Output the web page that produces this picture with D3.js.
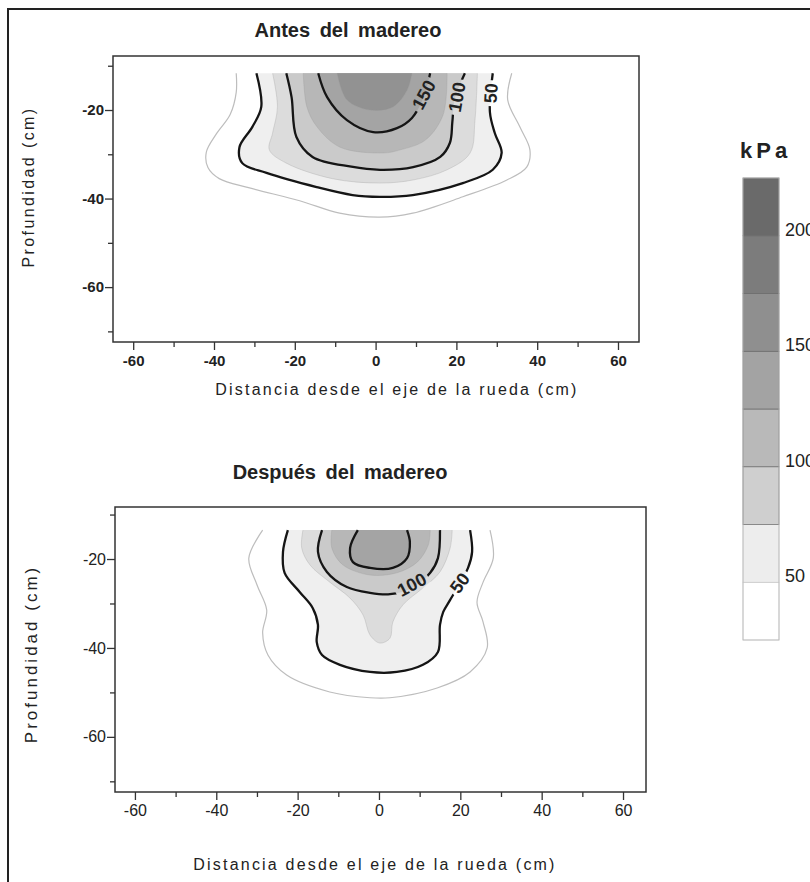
<!DOCTYPE html>
<html>
<head>
<meta charset="utf-8">
<script src="https://cdn.jsdelivr.net/npm/d3@7"></script>
<style>
body { margin: 0; background: #fff; }
text { font-family: "Liberation Sans", Arial, sans-serif; fill: #222; }
</style>
</head>
<body>
<svg id="chart" width="810" height="882"></svg>
<script>
// contour levels (kPa) and the grey for the band above each level
var levels = [25, 50, 75, 100, 125, 150, 175];
var fillShades = ['#ffffff', '#efefef', '#dcdcdc', '#cacaca', '#b7b7b7', '#a4a4a4', '#929292'];

// legend bands
var legendBreaks = [25, 50, 75, 100, 125, 150, 175, 200, 225];
var legendShades = ['#ffffff', '#ededed', '#cfcfcf', '#b9b9b9', '#a3a3a3', '#8f8f8f', '#7c7c7c', '#6a6a6a'];
var legendTicks = [50, 100, 150, 200];

var xTicks = [-60, -40, -20, 0, 20, 40, 60];
var xMinor = [-50, -30, -10, 10, 30, 50];
var yTicks = [-20, -40, -60];
var yMinor = [-10, -30, -50, -70];

// "Antes del madereo": contours as [distance cm, depth cm]
var antes25 = [[-34.5,-11.7],[-34.5,-16],[-36,-21],[-39.5,-25.5],[-41.9,-29.5],[-41.5,-33],[-38.7,-35.5],[-31.2,-37.6],[-18.8,-40.5],[-8.9,-43.3],[1,-44.2],[9.2,-43.3],[21.6,-39.6],[32.5,-35.8],[37.4,-32.9],[38.2,-29.0],[35.7,-23.8],[32.7,-17.7],[33.7,-11.7]];
var antes50 = [[-29.5,-11.7],[-28.3,-19.3],[-30.5,-23.8],[-33.7,-28.4],[-33.0,-32.0],[-27.0,-34.2],[-14.6,-37.4],[-5.7,-39.2],[1,-39.6],[9.2,-39.2],[21.6,-36.5],[29.0,-33.5],[31.2,-29.7],[29.5,-25.2],[28.3,-20.5],[29.0,-11.7]];
var antes75 = [[-25.5,-11.7],[-24.3,-19.3],[-25.5,-25.2],[-26.3,-29.0],[-22.1,-32.0],[-10.7,-35.5],[1,-36.5],[9.3,-35.8],[17.7,-33.5],[23.4,-29.7],[24.6,-22.3],[25.2,-11.7]];
var antes100 = [[-22.1,-11.7],[-20.8,-17.1],[-19.6,-26.1],[-15.6,-30.6],[-6,-32.8],[1.1,-33.5],[9.3,-32.9],[16.0,-30.6],[18.4,-27.4],[19.0,-22.7],[19.6,-17.5],[22.1,-11.7]];
var antes125 = [[-17.9,-11.7],[-17.0,-19.3],[-14.5,-23.8],[-8.8,-28.4],[1.9,-29.7],[6.1,-29.0],[12.3,-26.8],[16.7,-21.1],[17.7,-11.7]];
var antes150 = [[-14.2,-11.7],[-12.0,-17.1],[-7.1,-22.3],[-0.6,-25.0],[5.3,-24.1],[9.0,-21.8],[11.8,-17.3],[13.5,-11.7]];
var antes175 = [[-9.5,-11.7],[-7.1,-17.7],[-1.4,-20.0],[4.3,-19.3],[7.8,-15.5],[9.0,-11.7]];
var antesLabels = [[150, 12.0, -16.6], [100, 20.2, -17.1], [50, 28.6, -16.2]];

// "Después del madereo"
var despues25 = [[-28.6,-13.5],[-32.0,-19.8],[-30.0,-25.8],[-27.6,-31.5],[-28.6,-36.6],[-27.3,-41.6],[-22.7,-46.1],[-12.1,-49.9],[-2.2,-51.2],[2.7,-51.2],[14.3,-49.0],[22.4,-45.4],[26.6,-40.0],[25.6,-34.2],[24.1,-29.7],[25.6,-25.2],[28.1,-19.8],[27.3,-13.5]];
var despues50 = [[-22.4,-13.5],[-23.6,-18.4],[-23.2,-23.1],[-19.5,-27.4],[-16.3,-31.0],[-15.0,-34.8],[-15.3,-38.7],[-14.0,-41.6],[-9.6,-43.8],[-2.2,-45.4],[4.4,-45.4],[10.8,-43.8],[14.5,-40.9],[15.0,-34.8],[15.8,-31.9],[17.5,-29.2],[21.9,-22.0],[22.9,-18.4],[22.4,-13.5]];
var despues75 = [[-18.7,-13.5],[-19.0,-17.5],[-17.0,-21.3],[-12.1,-25.2],[-7.1,-28.8],[-3.9,-32.6],[-2.2,-37.1],[0.2,-38.9],[2.7,-37.8],[3.4,-34.2],[5.9,-30.3],[10.8,-26.5],[15.0,-22.9],[17.5,-17.5],[18.0,-13.5]];
var despues100 = [[-14.0,-13.5],[-15.0,-18.4],[-12.8,-22.9],[-7.9,-26.3],[-2.2,-27.6],[2.7,-27.9],[8.1,-26.5],[12.6,-23.1],[14.5,-19.8],[15.0,-13.5]];
var despues125 = [[-11.6,-13.5],[-11.6,-17.5],[-8.9,-21.3],[-2.2,-23.6],[4.4,-23.1],[9.4,-20.7],[12.1,-16.9],[12.6,-13.5]];
var despues150 = [[-5.2,-13.5],[-7.1,-17.5],[-6.4,-20.7],[-2.2,-22.0],[3.4,-22.0],[6.9,-19.8],[7.6,-16.2],[6.9,-13.5]];
var despuesLabels = [[100, 8.1, -25.8], [50, 19.9, -25.4]];

var svg = d3.select('#chart');
var defs = svg.append('defs');

// outer frame of the figure
svg.append('rect').attr('x', 8).attr('y', 9).attr('width', 900).attr('height', 1000)
    .attr('fill', 'none').attr('stroke', '#222').attr('stroke-width', 2);

var panels = [
    { id: 'a', title: 'Antes del madereo', titleX: 348, titleY: 37,
      contours: [antes25, antes50, antes75, antes100, antes125, antes150, antes175],
      levels: [25, 50, 75, 100, 125, 150, 175],
      labels: antesLabels, angles: [-62, -80, -87],
      left: 113, right: 639, top: 56, bottom: 342,
      xDomain: [-65, 65.2], yDomain: [-7.8, -72.4],
      tickWeight: 'bold', tickSize: 15,
      yLabelX: 28, yLabelY: 187, yLabelSize: 16, yLabelSpacing: 2.4,
      xLabelX: 397, xLabelY: 395 },
    { id: 'b', title: 'Después del madereo', titleX: 340, titleY: 479,
      contours: [despues25, despues50, despues75, despues100, despues125, despues150],
      levels: [25, 50, 75, 100, 125, 150],
      labels: despuesLabels, angles: [-28, -53],
      left: 115, right: 646, top: 507, bottom: 792,
      xDomain: [-64.9, 65.65], yDomain: [-8.3, -72.4],
      tickWeight: 'normal', tickSize: 16,
      yLabelX: 31, yLabelY: 654, yLabelSize: 17, yLabelSpacing: 3,
      xLabelX: 375, xLabelY: 870 }
];

function drawPanel(p) {
    var x = d3.scaleLinear().domain(p.xDomain).range([p.left, p.right]);
    var y = d3.scaleLinear().domain(p.yDomain).range([p.top, p.bottom]);
    var path = d3.line()
        .x(function(d) { return x(d[0]); })
        .y(function(d) { return y(d[1]); })
        .curve(d3.curveCatmullRom.alpha(0.5));
    var g = svg.append('g');

    // filled bands, lowest level first
    p.contours.forEach(function(c, i) {
        g.append('path').attr('d', path(c) + 'Z')
            .attr('fill', fillShades[levels.indexOf(p.levels[i])]);
    });

    // mask so contour lines break under their labels
    var mask = defs.append('mask').attr('id', 'mask-' + p.id);
    mask.append('rect').attr('x', 0).attr('y', 0).attr('width', 810).attr('height', 882).attr('fill', '#fff');
    p.labels.forEach(function(l, i) {
        var w = String(l[0]).length * 10 + 6;
        mask.append('rect').attr('x', -w / 2).attr('y', -8).attr('width', w).attr('height', 16)
            .attr('fill', '#000')
            .attr('transform', 'translate(' + x(l[1]) + ',' + y(l[2]) + ') rotate(' + p.angles[i] + ')');
    });

    var lines = g.append('g').attr('mask', 'url(#mask-' + p.id + ')');
    p.contours.forEach(function(c, i) {
        var lv = p.levels[i];
        var major = lv % 50 === 0;
        lines.append('path').attr('d', path(c)).attr('fill', 'none')
            .attr('stroke', major ? '#151515' : (lv === 25 ? '#bdbdbd' : '#9a9a9a'))
            .attr('stroke-opacity', major || lv === 25 ? 1 : 0.5)
            .attr('stroke-width', major ? 2.3 : (lv === 25 ? 1.2 : 0.6));
    });

    p.labels.forEach(function(l, i) {
        g.append('text').text(l[0])
            .attr('transform', 'translate(' + x(l[1]) + ',' + y(l[2]) + ') rotate(' + p.angles[i] + ')')
            .attr('text-anchor', 'middle').attr('dominant-baseline', 'central')
            .style('font-size', '18px').style('font-weight', 'bold');
    });

    // frame
    g.append('rect').attr('x', p.left).attr('y', p.top)
        .attr('width', p.right - p.left).attr('height', p.bottom - p.top)
        .attr('fill', 'none').attr('stroke', '#333').attr('stroke-width', 1.5);

    var fmt = function(d) { return String(d); };
    var xa = g.append('g').attr('transform', 'translate(0,' + p.bottom + ')')
        .call(d3.axisBottom(x).tickValues(xTicks).tickSize(8).tickPadding(5).tickFormat(fmt));
    var xm = g.append('g').attr('transform', 'translate(0,' + p.bottom + ')')
        .call(d3.axisBottom(x).tickValues(xMinor).tickSize(5).tickFormat(''));
    var ya = g.append('g').attr('transform', 'translate(' + p.left + ',0)')
        .call(d3.axisLeft(y).tickValues(yTicks).tickSize(8).tickPadding(1).tickFormat(fmt));
    var ym = g.append('g').attr('transform', 'translate(' + p.left + ',0)')
        .call(d3.axisLeft(y).tickValues(yMinor).tickSize(5).tickFormat(''));
    [xa, xm, ya, ym].forEach(function(a) {
        a.select('.domain').remove();
        a.selectAll('line').attr('stroke', '#333').attr('stroke-width', 1.3);
        a.selectAll('text').attr('fill', '#222')
            .style('font-family', '"Liberation Sans", Arial, sans-serif')
            .style('font-size', p.tickSize + 'px').style('font-weight', p.tickWeight);
    });

    g.append('text').text(p.title).attr('x', p.titleX).attr('y', p.titleY)
        .attr('text-anchor', 'middle')
        .style('font-size', '20px').style('font-weight', 'bold').style('word-spacing', '4px');

    g.append('text').text('Profundidad (cm)')
        .attr('transform', 'translate(' + p.yLabelX + ',' + p.yLabelY + ') rotate(-90)')
        .attr('text-anchor', 'middle').attr('dominant-baseline', 'central')
        .style('font-size', p.yLabelSize + 'px').style('letter-spacing', p.yLabelSpacing + 'px');

    g.append('text').text('Distancia desde el eje de la rueda (cm)')
        .attr('x', p.xLabelX).attr('y', p.xLabelY).attr('text-anchor', 'middle')
        .style('font-size', '16px').style('letter-spacing', '2.2px');
}

panels.forEach(drawPanel);

// colour key
var ly = d3.scaleLinear().domain([25, 225]).range([640, 178]);
var key = svg.append('g');
key.append('text').text('kPa').attr('x', 740).attr('y', 158)
    .style('font-size', '22px').style('font-weight', 'bold').style('letter-spacing', '4px');
legendShades.forEach(function(c, i) {
    key.append('rect').attr('x', 743).attr('width', 36)
        .attr('y', ly(legendBreaks[i + 1]))
        .attr('height', ly(legendBreaks[i]) - ly(legendBreaks[i + 1]))
        .attr('fill', c).attr('stroke', i < 2 ? '#c8c8c8' : '#6a6a6a').attr('stroke-width', 0.7);
});
key.append('rect').attr('x', 743).attr('y', ly(225)).attr('width', 36).attr('height', ly(25) - ly(225))
    .attr('fill', 'none').attr('stroke', '#bbb').attr('stroke-width', 0.8);
legendTicks.forEach(function(t) {
    key.append('text').text(t).attr('x', 785).attr('y', ly(t) - 6)
        .attr('dominant-baseline', 'central').style('font-size', '18px');
});
</script>
</body>
</html>
